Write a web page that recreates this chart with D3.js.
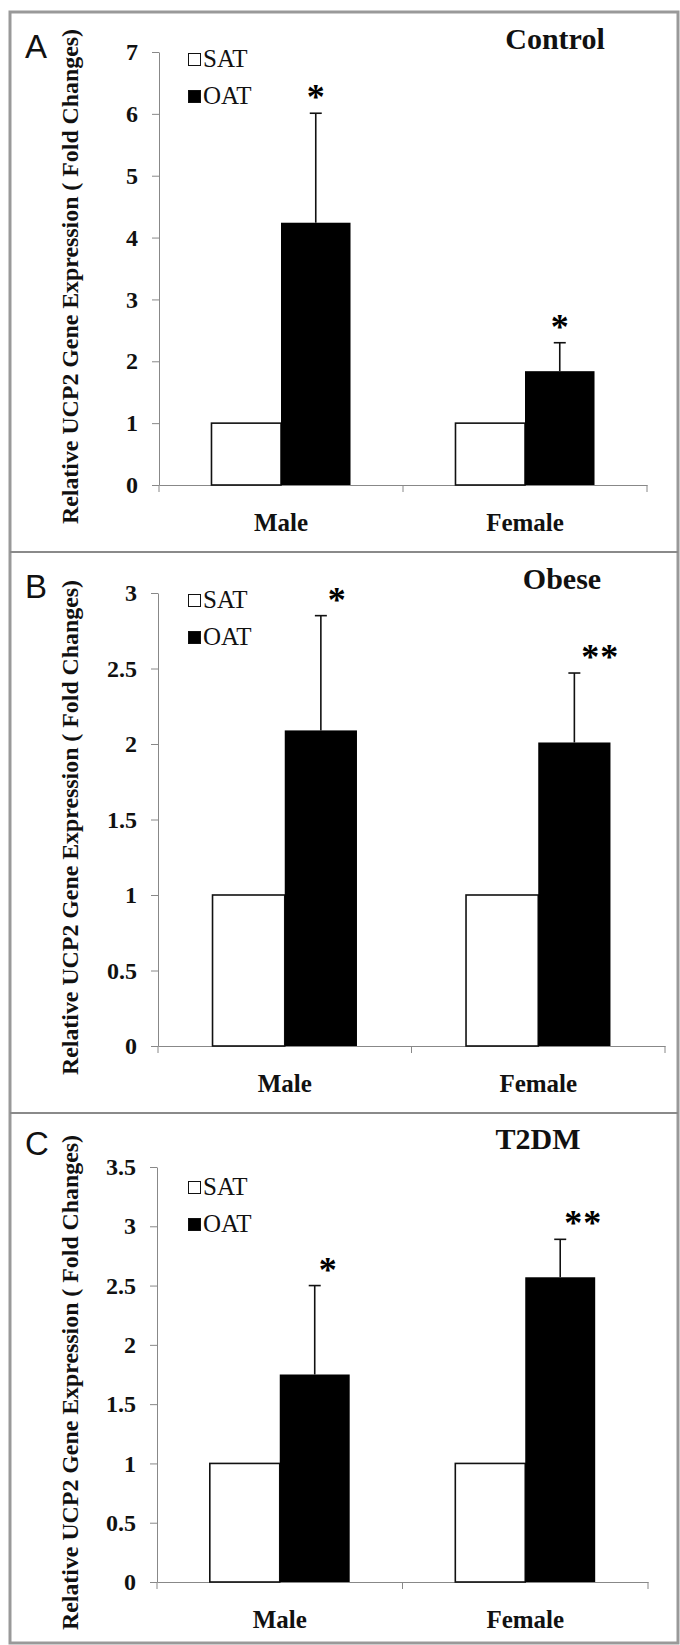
<!DOCTYPE html>
<html>
<head>
<meta charset="utf-8">
<script src="https://cdn.jsdelivr.net/npm/d3@7"></script>
<style>
  body { margin: 0; background: #fff; }
  svg { display: block; }
</style>
</head>
<body>
<div id="chart"></div>
<script>
// Data
const groups = ['Male', 'Female'];
const tissues = ['SAT', 'OAT'];
const panelNames = ['Control', 'Obese', 'T2DM'];
const panelLetters = ['A', 'B', 'C'];
const satValues = [[1, 1], [1, 1], [1, 1]];
const oatValues = [[4.24, 1.84], [2.09, 2.01], [1.75, 2.57]];
const oatErrors = [[1.77, 0.46], [0.76, 0.46], [0.75, 0.32]];
const significance = [['*', '*'], ['*', '**'], ['*', '**']];
const yTicks = [
  [0, 1, 2, 3, 4, 5, 6, 7],
  [0, 0.5, 1, 1.5, 2, 2.5, 3],
  [0, 0.5, 1, 1.5, 2, 2.5, 3, 3.5]
];
const yTitle = 'Relative UCP2 Gene Expression ( Fold Changes)';

// Graph setup
const width = 680;
const height = 1645;
const serif = '"Liberation Serif", "Times New Roman", serif';

// per-panel placement
const layout = [
  { top: 52, zero: 485, left: 159, right: 647, legendY: 53, titleX: 555, titleY: 49, letterY: 58, starAnchor: 'middle', starDx: 0 },
  { top: 593, zero: 1046, left: 158, right: 665, legendY: 594, titleX: 562, titleY: 589, letterY: 598, starAnchor: 'start', starDx: 7 },
  { top: 1167, zero: 1582, left: 157, right: 648, legendY: 1181, titleX: 538, titleY: 1149, letterY: 1155, starAnchor: 'start', starDx: 4 }
];

const svg = d3.select('#chart')
  .append('svg')
  .attr('width', width)
  .attr('height', height);

// frame
svg.append('rect')
  .attr('x', 10).attr('y', 12)
  .attr('width', 668).attr('height', 1631)
  .attr('fill', 'none')
  .attr('stroke', '#999')
  .attr('stroke-width', 3);

[552, 1113].forEach(yy => {
  svg.append('line')
    .attr('x1', 10).attr('x2', 678)
    .attr('y1', yy).attr('y2', yy)
    .attr('stroke', '#8a8a8a')
    .attr('stroke-width', 2);
});

panelNames.forEach((name, p) => {
  const L = layout[p];
  const ticks = yTicks[p];
  const g = svg.append('g');

  const y = d3.scaleLinear()
    .domain([0, d3.max(ticks)])
    .range([L.zero, L.top]);

  const x = d3.scaleBand()
    .domain(groups)
    .range([L.left, L.right])
    .padding(0);

  const xSub = d3.scaleBand()
    .domain(tissues)
    .range([0, x.bandwidth()])
    .paddingInner(0)
    .paddingOuter(0.755);

  // y axis
  const yAxis = g.append('g')
    .attr('transform', `translate(${L.left},0)`)
    .call(d3.axisLeft(y).tickValues(ticks).tickSize(7).tickSizeOuter(0).tickPadding(14).tickFormat(d => d));
  yAxis.select('.domain').attr('stroke', '#888');
  yAxis.selectAll('.tick line').attr('stroke', '#888');
  yAxis.selectAll('.tick text')
    .attr('font-family', serif)
    .attr('font-size', 24)
    .attr('font-weight', 'bold')
    .attr('fill', '#111');

  // x axis
  const xAxis = g.append('g')
    .attr('transform', `translate(0,${L.zero})`)
    .call(d3.axisBottom(x).tickSize(0).tickSizeOuter(0).tickPadding(28));
  xAxis.select('.domain').attr('stroke', '#888');
  xAxis.selectAll('.tick text')
    .attr('font-family', serif)
    .attr('font-size', 25)
    .attr('font-weight', 'bold')
    .attr('fill', '#111');

  const bounds = [L.left].concat(groups.map(d => x(d) + x.bandwidth()));
  g.selectAll('.xbound')
    .data(bounds)
    .enter()
    .append('line')
    .attr('class', 'xbound')
    .attr('x1', d => d).attr('x2', d => d)
    .attr('y1', L.zero).attr('y2', L.zero + 7)
    .attr('stroke', '#888');

  // bars
  const rows = groups.map((grp, i) => ({
    grp,
    sat: satValues[p][i],
    oat: oatValues[p][i],
    err: oatErrors[p][i],
    sig: significance[p][i]
  }));

  g.selectAll('.sat')
    .data(rows)
    .enter()
    .append('rect')
    .attr('class', 'sat')
    .attr('x', d => x(d.grp) + xSub('SAT'))
    .attr('y', d => y(d.sat))
    .attr('width', xSub.bandwidth())
    .attr('height', d => y(0) - y(d.sat))
    .attr('fill', '#fff')
    .attr('stroke', '#111')
    .attr('stroke-width', 1.6);

  g.selectAll('.oat')
    .data(rows)
    .enter()
    .append('rect')
    .attr('class', 'oat')
    .attr('x', d => x(d.grp) + xSub('OAT'))
    .attr('y', d => y(d.oat))
    .attr('width', xSub.bandwidth())
    .attr('height', d => y(0) - y(d.oat))
    .attr('fill', '#000');

  // error bars (upper only)
  const errX = d => x(d.grp) + xSub('OAT') + xSub.bandwidth() / 2;
  g.selectAll('.err')
    .data(rows)
    .enter()
    .append('line')
    .attr('x1', errX).attr('x2', errX)
    .attr('y1', d => y(d.oat))
    .attr('y2', d => y(d.oat + d.err))
    .attr('stroke', '#111')
    .attr('stroke-width', 1.6);
  g.selectAll('.cap')
    .data(rows)
    .enter()
    .append('line')
    .attr('x1', d => errX(d) - 6).attr('x2', d => errX(d) + 6)
    .attr('y1', d => y(d.oat + d.err))
    .attr('y2', d => y(d.oat + d.err))
    .attr('stroke', '#111')
    .attr('stroke-width', 1.6);

  // significance stars
  g.selectAll('.sig')
    .data(rows)
    .enter()
    .append('text')
    .attr('x', d => errX(d) + L.starDx)
    .attr('y', d => y(d.oat + d.err) - 4)
    .attr('text-anchor', L.starAnchor)
    .attr('font-family', serif)
    .attr('font-size', 36)
    .attr('font-weight', 'bold')
    .attr('letter-spacing', d => d.sig.length > 1 ? 1 : 0)
    .text(d => d.sig);

  // legend
  const legend = g.append('g')
    .attr('transform', `translate(188,${L.legendY})`);
  tissues.forEach((t, i) => {
    legend.append('rect')
      .attr('x', 0.5)
      .attr('y', i * 37 + 0.5)
      .attr('width', 12)
      .attr('height', 12)
      .attr('fill', t === 'SAT' ? '#fff' : '#000')
      .attr('stroke', '#111')
      .attr('stroke-width', 1);
    legend.append('text')
      .attr('x', 15)
      .attr('y', i * 37 + 14)
      .attr('font-family', serif)
      .attr('font-size', 25)
      .attr('fill', '#111')
      .text(t);
  });

  // panel title
  g.append('text')
    .attr('x', L.titleX)
    .attr('y', L.titleY)
    .attr('text-anchor', 'middle')
    .attr('font-family', serif)
    .attr('font-size', 30)
    .attr('font-weight', 'bold')
    .attr('fill', '#111')
    .text(name);

  // panel letter
  g.append('text')
    .attr('x', 25)
    .attr('y', L.letterY)
    .attr('font-family', '"Liberation Sans", Arial, sans-serif')
    .attr('font-size', 33)
    .attr('fill', '#111')
    .text(panelLetters[p]);

  // y axis title
  g.append('text')
    .attr('transform', `translate(78,${(L.top + L.zero) / 2 + 8}) rotate(-90)`)
    .attr('text-anchor', 'middle')
    .attr('font-family', serif)
    .attr('font-size', 24)
    .attr('font-weight', 'bold')
    .attr('fill', '#111')
    .attr('textLength', 495)
    .attr('lengthAdjust', 'spacingAndGlyphs')
    .text(yTitle);
});
</script>
</body>
</html>
